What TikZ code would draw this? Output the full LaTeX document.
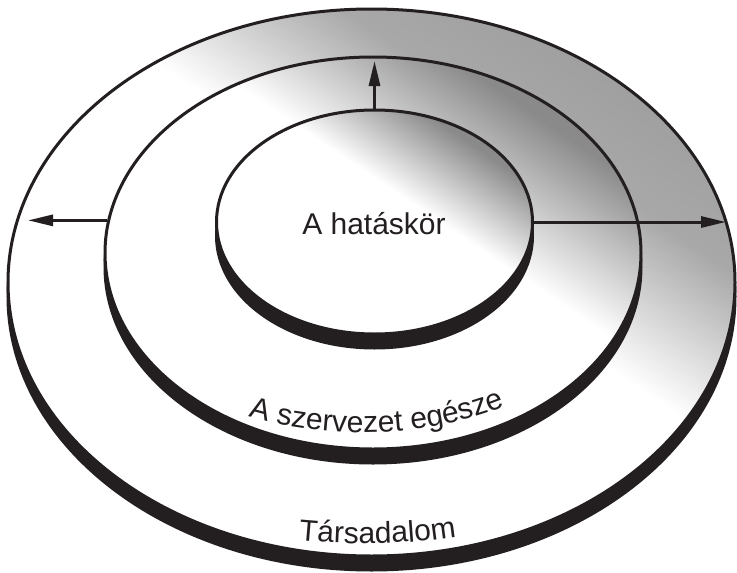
\documentclass[tikz,border=0pt]{standalone}
\usepackage{fontspec}
\setmainfont{Liberation Sans}
\usetikzlibrary{shapes.geometric, arrows.meta, decorations.text}
\definecolor{ink}{RGB}{35,31,32}
\pgfdeclarehorizontalshading{innershade}{100bp}{color(0bp)=(white); color(57bp)=(white); color(73bp)=(black!46); color(100bp)=(black!46)}
\pgfdeclarehorizontalshading{outershade}{100bp}{color(0bp)=(white); color(55bp)=(white); color(67bp)=(black!34); color(76bp)=(black!38); color(100bp)=(black!38)}
\newcommand{\lblfont}{\fontsize{30}{33}\selectfont}
\begin{document}
\begin{tikzpicture}[x=1pt, y=-1pt,
  face/.style={ellipse, draw=ink, line width=3pt, inner sep=0pt, shade, shading angle=56},
  band/.style={ellipse, fill=ink, draw=ink, line width=3pt, inner sep=0pt},
  arr/.style={draw=ink, line width=3pt, -{Triangle[length=25pt,width=11pt]}},
  lbl/.style={font=\lblfont, text=ink}]
\path[use as bounding box, fill=white] (0,0) rectangle (737,573);

% outer disc
\node[band, minimum width=727pt, minimum height=547pt] (outerband) at (371.5,296.5) {};
\node[face, shading=outershade, minimum width=727pt, minimum height=547pt] (outer) at (371.5,282.5) {};
% middle disc
\node[band, minimum width=536pt, minimum height=392pt] (middleband) at (373,267) {};
\node[face, shading=innershade, minimum width=536pt, minimum height=392pt] (middle) at (373,253) {};
% inner disc
\node[band, minimum width=316pt, minimum height=224pt] (innerband) at (374.5,236) {};
\node[face, shading=innershade, minimum width=316pt, minimum height=224pt] (inner) at (374.5,222) {};

% arrows
\coordinate (ltip) at (28,222);
\coordinate (rtip) at (726,222);
\coordinate (utip) at (374.5,61);
\draw[arr] (middle.173.3) -- (middle.173.3 -| ltip);
\draw[arr] (inner.east) -- (rtip);
\draw[arr] (inner.north) -- (utip);

% labels
\node[lbl, anchor=base] (hat) at (374,234) {A hatáskör};
\path[decorate, decoration={text along path, text align=center, text color=ink,
  text={|\lblfont|A szervezet egésze}}]
  (240,414) .. controls (320,440) and (430,440) .. (513,403);
\path[decorate, decoration={text along path, text align=center, text color=ink,
  text={|\lblfont|Társadalom}}]
  (278,538) .. controls (345,546) and (410,546) .. (477,533);
\end{tikzpicture}
\end{document}
